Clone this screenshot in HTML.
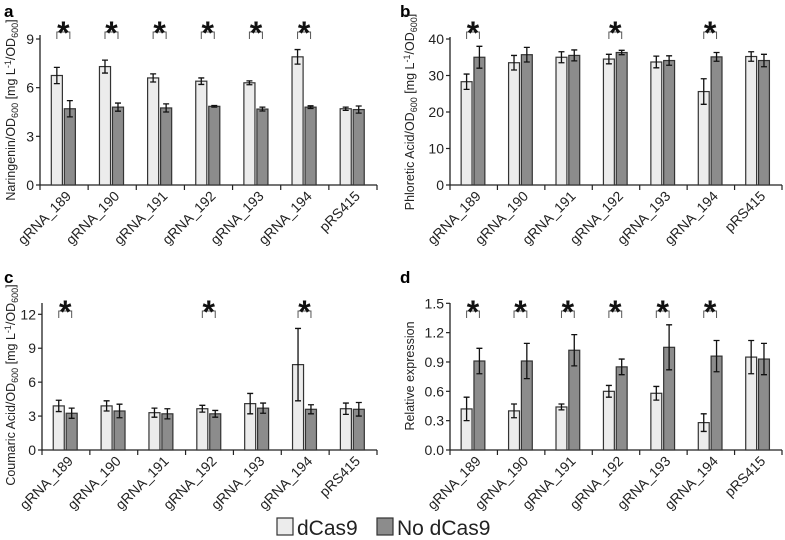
<!DOCTYPE html>
<html><head><meta charset="utf-8"><style>
body{margin:0;background:#fff;}
svg{display:block;font-family:"Liberation Sans",Arial,sans-serif;}
</style></head><body>
<svg id="fig" width="785" height="540" viewBox="0 0 785 540" xmlns="http://www.w3.org/2000/svg">
<text x="4" y="17" font-size="17" font-weight="bold">a</text>
<text x="400" y="17" font-size="17" font-weight="bold">b</text>
<text x="4" y="283" font-size="17" font-weight="bold">c</text>
<text x="400" y="283" font-size="17" font-weight="bold">d</text>
<g>
<rect x="277" y="518" width="16" height="17" fill="#ececec" stroke="#333" stroke-width="1.2"/>
<text x="297" y="535" font-size="21" fill="#222">dCas9</text>
<rect x="377" y="518" width="16" height="17" fill="#8c8c8c" stroke="#333" stroke-width="1.2"/>
<text x="397" y="535" font-size="21" fill="#222">No dCas9</text>
</g>
</svg>
<script>
const categories = ["gRNA_189","gRNA_190","gRNA_191","gRNA_192","gRNA_193","gRNA_194","pRS415"];
const aDcas = [6.75,7.3,6.6,6.4,6.3,7.9,4.7];
const aDcasErr = [0.5,0.4,0.25,0.2,0.12,0.45,0.1];
const aNo = [4.7,4.8,4.75,4.85,4.68,4.8,4.65];
const aNoErr = [0.5,0.25,0.25,0.05,0.12,0.08,0.22];
const aTicks = [0,3,6,9];
const aSig = [1,1,1,1,1,1,0];
const bDcas = [28.3,33.5,35,34.5,33.7,25.6,35.2];
const bDcasErr = [2.1,2,1.5,1.3,1.6,3.5,1.3];
const bNo = [35,35.7,35.5,36.3,34.1,35.1,34.1];
const bNoErr = [3,2,1.5,0.6,1.3,1.2,1.7];
const bTicks = [0,10,20,30,40];
const bSig = [1,0,0,1,0,1,0];
const cDcas = [3.9,3.9,3.3,3.65,4.1,7.55,3.65];
const cDcasErr = [0.5,0.45,0.4,0.3,0.9,3.2,0.5];
const cNo = [3.25,3.45,3.2,3.2,3.7,3.6,3.6];
const cNoErr = [0.45,0.6,0.45,0.3,0.45,0.4,0.6];
const cTicks = [0,3,6,9,12];
const cSig = [1,0,0,1,0,1,0];
const dDcas = [0.42,0.40,0.44,0.60,0.58,0.28,0.95];
const dDcasErr = [0.12,0.07,0.03,0.06,0.07,0.09,0.17];
const dNo = [0.91,0.91,1.02,0.85,1.05,0.96,0.93];
const dNoErr = [0.13,0.18,0.16,0.08,0.23,0.16,0.16];
const dTicks = [0.0,0.3,0.6,0.9,1.2,1.5];
const dTickLabels = ["0.0","0.3","0.6","0.9","1.2","1.5"];
const dSig = [1,1,1,1,1,1,0];

const NS="http://www.w3.org/2000/svg";
const svg=document.getElementById('fig');
function mk(tag,attrs,parent){const e=document.createElementNS(NS,tag);for(const k in attrs)e.setAttribute(k,attrs[k]);(parent||svg).appendChild(e);return e;}

function panel(id,cfg){
  const g=mk('g',{});
  
  
  const {x0,x1,y0,y1,vmax,ticks,tickLabels,d1,e1,d2,e2,sig,ylabel,axTop,brY}=cfg;
  const ys=v=>y0-(v/vmax)*(y0-y1);
  const n=categories.length, gw=(x1-x0)/n;
  const xs=i=>x0+i*gw;
  const yaxis=mk('line',{x1:x0,y1:axTop,x2:x0,y2:y0,stroke:'#222','stroke-width':1.3},g);
  
  
  const xaxis=mk('line',{x1:x0,y1:y0,x2:x1,y2:y0,stroke:'#222','stroke-width':1.3},g);
  
  
  ticks.forEach((t,i)=>{
    mk('line',{x1:x0-4,y1:ys(t),x2:x0,y2:ys(t),stroke:'#222','stroke-width':1.2},g);
    const tl=mk('text',{x:x0-6,y:ys(t)+5,'font-size':14,'text-anchor':'end',fill:'#222'},g);
    tl.textContent=tickLabels?tickLabels[i]:String(t);
    
    
  });
  for(let i=0;i<=n;i++) mk('line',{x1:xs(i),y1:y0,x2:xs(i),y2:y0+5,stroke:'#222','stroke-width':1.2},g);
  const bw=gw*0.23, off1=gw*0.235, off2=off1+bw+gw*0.04;
  for(let i=0;i<n;i++){
    [[d1,e1,off1,'#ececec'],[d2,e2,off2,'#8c8c8c']].forEach(([d,e,off,fill],k)=>{
      const bx=xs(i)+off, top=ys(d[i]);
      const r=mk('rect',{x:bx,y:top,width:bw,height:y0-top,fill:fill,stroke:'#333','stroke-width':1.2},g);
      
      
      const cx=bx+bw/2, hi=ys(d[i]+e[i]), lo=ys(d[i]-e[i]);
      const eb=mk('path',{d:`M${cx},${hi}V${lo}M${cx-3},${hi}H${cx+3}M${cx-3},${lo}H${cx+3}`,stroke:'#111','stroke-width':1.3,fill:'none'},g);
      
      
    });
    const c1=xs(i)+off1+bw/2, c2=xs(i)+off2+bw/2;
    if(sig[i]){
      const br=mk('path',{d:`M${c1},${brY+7}V${brY}H${c2}V${brY+7}`,stroke:'#555','stroke-width':1,fill:'none'},g);
      
      
      const st=mk('text',{x:(c1+c2)/2,y:brY+12,'font-size':32,'font-weight':'bold','text-anchor':'middle',fill:'#111'},g);
      st.textContent='*';
      
      
    }
    const lx=xs(i)+gw/2+8, ly=y0+12;
    const lab=mk('text',{x:lx,y:ly,'font-size':14,'text-anchor':'end',fill:'#222',transform:`rotate(-45 ${lx} ${ly})`},g);
    lab.textContent=categories[i];
    
    
  }
  const ly=cfg.labelY, lx=cfg.labelX;
  const yl=mk('text',{x:lx,y:ly,'font-size':12.5,'text-anchor':'middle',fill:'#222',transform:`rotate(-90 ${lx} ${ly})`},g);
  yl.innerHTML=ylabel;
  
  
}
const sub='<tspan font-size="9" dy="3">600</tspan><tspan dy="-3">';
const tail=' [mg L</tspan><tspan font-size="9" dy="-4">-1</tspan><tspan dy="4">/OD</tspan><tspan font-size="9" dy="3">600</tspan><tspan dy="-3">]</tspan>';
panel('a',{x0:40,x1:377,y0:185,y1:39,axTop:35,vmax:9,ticks:aTicks,d1:aDcas,e1:aDcasErr,d2:aNo,e2:aNoErr,sig:aSig,brY:32,labelX:15,labelY:110,
  ylabel:'Naringenin/OD'+sub+tail});
panel('b',{x0:450,x1:782,y0:185,y1:39,axTop:37,vmax:40,ticks:bTicks,d1:bDcas,e1:bDcasErr,d2:bNo,e2:bNoErr,sig:bSig,brY:32,labelX:414,labelY:112,
  ylabel:'Phloretic Acid/OD'+sub+tail});
panel('c',{x0:42,x1:377,y0:450,y1:314.3,axTop:303,vmax:12,ticks:cTicks,d1:cDcas,e1:cDcasErr,d2:cNo,e2:cNoErr,sig:cSig,brY:311,labelX:15,labelY:385,
  ylabel:'Coumaric Acid/OD'+sub+tail});
panel('d',{x0:450,x1:782,y0:450,y1:303.3,axTop:303,vmax:1.5,ticks:dTicks,tickLabels:dTickLabels,d1:dDcas,e1:dDcasErr,d2:dNo,e2:dNoErr,sig:dSig,brY:311,labelX:414,labelY:376,
  ylabel:'Relative expression'});
</script>
</body></html>
